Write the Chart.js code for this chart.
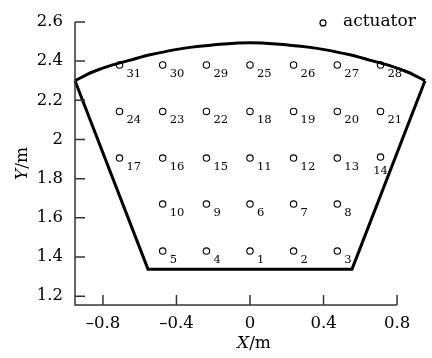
<!DOCTYPE html>
<html>
<head>
<meta charset="utf-8">
<script src="https://cdn.jsdelivr.net/npm/chart.js@4.4.1/dist/chart.umd.min.js"></script>
<style>
  html, body { margin: 0; padding: 0; background: #fff; }
  #wrap { width: 432px; height: 358px; }
</style>
</head>
<body>
<div id="wrap"><canvas id="myChart"></canvas></div>
<script>
// actuator positions, numbered 1..31
const actuatorIds = [
  1, 2, 3, 4, 5, 6, 7, 8, 9, 10,
  11, 12, 13, 14, 15, 16, 17, 18, 19, 20,
  21, 22, 23, 24, 25, 26, 27, 28, 29, 30, 31
];
const actuatorX = [
  0, 0.237, 0.475, -0.237, -0.475,
  0, 0.237, 0.475, -0.237, -0.475,
  0, 0.237, 0.475, 0.71, -0.237, -0.475, -0.71,
  0, 0.237, 0.475, 0.71, -0.237, -0.475, -0.71,
  0, 0.237, 0.475, 0.71, -0.237, -0.475, -0.71
];
const actuatorY = [
  1.43, 1.43, 1.43, 1.43, 1.43,
  1.67, 1.67, 1.67, 1.67, 1.67,
  1.905, 1.905, 1.905, 1.91, 1.905, 1.905, 1.905,
  2.143, 2.143, 2.143, 2.143, 2.143, 2.143, 2.143,
  2.38, 2.38, 2.38, 2.38, 2.38, 2.38, 2.38
];

// straight sides and bottom of the mirror outline
const edgeX = [-0.952, -0.555, 0.555, 0.952];
const edgeY = [2.3, 1.338, 1.338, 2.3];

// curved top edge
const arcX = [-0.952, -0.86, -0.76, -0.65, -0.544, -0.327, 0, 0.327, 0.544, 0.65, 0.76, 0.86, 0.952];
const arcY = [2.3, 2.343, 2.377, 2.405, 2.432, 2.47, 2.494, 2.47, 2.432, 2.405, 2.377, 2.343, 2.3];

const xTicks = [-0.8, -0.4, 0, 0.4, 0.8];
const yTicks = [1.2, 1.4, 1.6, 1.8, 2, 2.2, 2.4, 2.6];
const xMin = -0.952, xMax = 0.952, xAxisEnd = 0.8;
const yMin = 1.155, yMax = 2.6;

const FONT = "'DejaVu Serif', serif";

const toPoints = (xs, ys) => xs.map((x, i) => ({ x: x, y: ys[i] }));

const fmt = v => (v < 0 ? '\u2013' + Math.abs(v) : String(v));

const decorations = {
  id: 'decorations',
  afterDatasetsDraw(chart) {
    const ctx = chart.ctx;
    const xs = chart.scales.x, ys = chart.scales.y;
    const area = chart.chartArea;
    const x0 = xs.getPixelForValue(xMin);
    const x1 = xs.getPixelForValue(xAxisEnd);
    const yb = ys.getPixelForValue(yMin);
    const yt = ys.getPixelForValue(yMax);

    ctx.save();
    // axis lines with inward ticks
    ctx.strokeStyle = '#333';
    ctx.lineWidth = 1.5;
    ctx.beginPath();
    ctx.moveTo(x0, yt);
    ctx.lineTo(x0, yb);
    ctx.lineTo(x1, yb);
    yTicks.forEach(v => {
      const py = ys.getPixelForValue(v);
      ctx.moveTo(x0, py);
      ctx.lineTo(x0 + 10, py);
    });
    xTicks.forEach(v => {
      const px = xs.getPixelForValue(v);
      ctx.moveTo(px, yb);
      ctx.lineTo(px, yb - 10);
    });
    ctx.stroke();

    // actuator numbers
    const meta = chart.getDatasetMeta(2);
    ctx.fillStyle = '#000';
    ctx.font = '11.5px ' + FONT;
    ctx.textBaseline = 'middle';
    meta.data.forEach((pt, i) => {
      const id = actuatorIds[i];
      if (id === 14) {
        ctx.textAlign = 'center';
        ctx.fillText(String(id), pt.x, pt.y + 14);
      } else {
        ctx.textAlign = 'left';
        ctx.fillText(String(id), pt.x + 7, pt.y + 9);
      }
    });

    // legend
    ctx.lineWidth = 1.2;
    ctx.strokeStyle = '#000';
    ctx.beginPath();
    ctx.arc(area.right - 102, area.top + 1, 3, 0, Math.PI * 2);
    ctx.stroke();
    ctx.font = '17px ' + FONT;
    ctx.textAlign = 'left';
    ctx.fillText('actuator', area.right - 82, area.top);

    // axis titles: italic letter, upright unit
    const drawTitle = (letter, cx, cy, rot) => {
      ctx.save();
      ctx.translate(cx, cy);
      ctx.rotate(rot);
      ctx.font = 'italic 17px ' + FONT;
      const w1 = ctx.measureText(letter).width;
      ctx.font = '17px ' + FONT;
      const w2 = ctx.measureText('/m').width;
      const start = -(w1 + w2) / 2;
      ctx.textAlign = 'left';
      ctx.textBaseline = 'middle';
      ctx.font = 'italic 17px ' + FONT;
      ctx.fillText(letter, start, 0);
      ctx.font = '17px ' + FONT;
      ctx.fillText('/m', start + w1, 0);
      ctx.restore();
    };
    drawTitle('X', (area.left + area.right) / 2 + 4, chart.height - 14, 0);
    drawTitle('Y', 23, (area.top + area.bottom) / 2, -Math.PI / 2);
    ctx.restore();
  }
};

const data = {
  datasets: [
    {
      label: 'outline',
      data: toPoints(edgeX, edgeY),
      showLine: true,
      borderColor: '#000',
      borderWidth: 3,
      borderJoinStyle: 'miter',
      pointRadius: 0,
      tension: 0,
      clip: false
    },
    {
      label: 'top',
      data: toPoints(arcX, arcY),
      showLine: true,
      borderColor: '#000',
      borderWidth: 3,
      pointRadius: 0,
      tension: 0.25,
      clip: false
    },
    {
      label: 'actuator',
      data: toPoints(actuatorX, actuatorY),
      showLine: false,
      pointStyle: 'circle',
      pointRadius: 3.2,
      borderWidth: 1.1,
      borderColor: '#000',
      backgroundColor: 'rgba(255,255,255,0)'
    }
  ]
};

const config = {
  type: 'scatter',
  data: data,
  options: {
    responsive: true,
    maintainAspectRatio: false,
    animation: false,
    layout: { padding: { top: 16, right: 7, left: 0, bottom: 0 } },
    plugins: {
      legend: { display: false },
      tooltip: { enabled: false }
    },
    scales: {
      x: {
        type: 'linear',
        min: xMin,
        max: xMax,
        afterBuildTicks: scale => { scale.ticks = xTicks.map(v => ({ value: v })); },
        afterFit: scale => { scale.height = 53; },
        grid: { display: false, drawTicks: false },
        border: { display: false },
        ticks: {
          padding: 9,
          color: '#000',
          font: { family: FONT, size: 16.5 },
          callback: v => fmt(v)
        }
      },
      y: {
        type: 'linear',
        min: yMin,
        max: yMax,
        afterBuildTicks: scale => { scale.ticks = yTicks.map(v => ({ value: v })); },
        afterFit: scale => { scale.width = 75; },
        grid: { display: false, drawTicks: false },
        border: { display: false },
        ticks: {
          padding: 12,
          color: '#000',
          font: { family: FONT, size: 16.5 },
          callback: v => fmt(v)
        }
      }
    }
  },
  plugins: [decorations]
};

const myChart = new Chart(document.getElementById('myChart').getContext('2d'), config);
</script>
</body>
</html>
